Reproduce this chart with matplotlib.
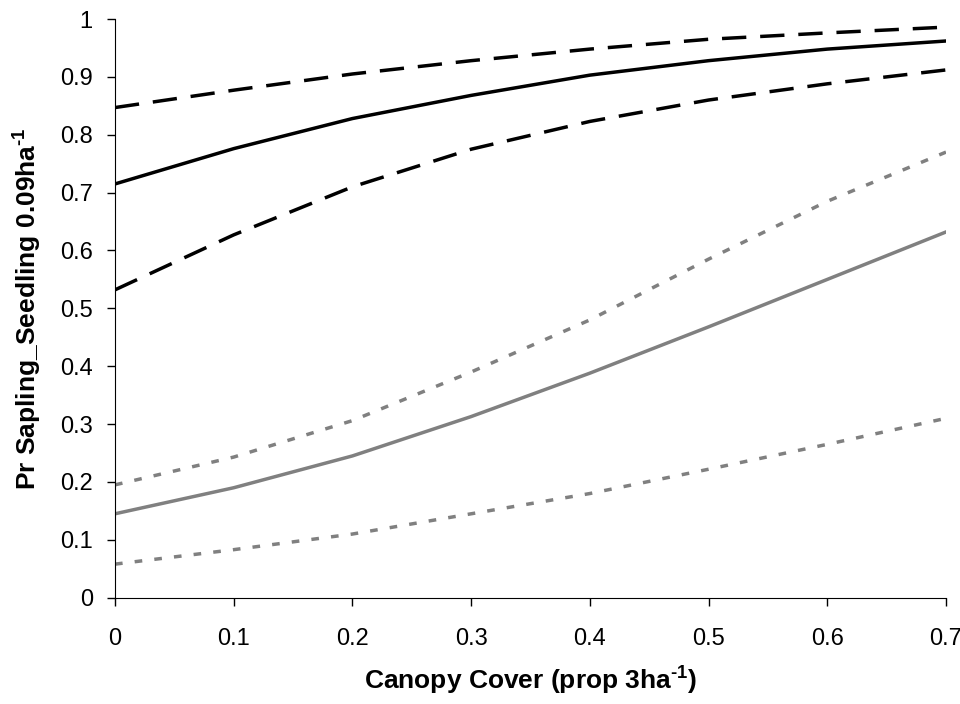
import matplotlib
matplotlib.use("Agg")
import matplotlib.pyplot as plt

plt.rcParams['font.family'] = ['Liberation Sans', 'DejaVu Sans']
plt.rcParams['mathtext.fontset'] = 'custom'
plt.rcParams['mathtext.rm'] = 'Liberation Sans:bold'
plt.rcParams['mathtext.bf'] = 'Liberation Sans:bold'
plt.rcParams['mathtext.default'] = 'bf'

# canopy cover (x)
cover = [0.0, 0.1, 0.2, 0.3, 0.4, 0.5, 0.6, 0.7]

# black group: estimate with upper/lower bounds
black_mid = [0.715, 0.776, 0.828, 0.868, 0.903, 0.928, 0.948, 0.962]
black_hi = [0.847, 0.877, 0.905, 0.928, 0.948, 0.965, 0.976, 0.986]
black_lo = [0.532, 0.627, 0.710, 0.775, 0.823, 0.860, 0.888, 0.912]

# grey group
grey_mid = [0.145, 0.190, 0.245, 0.313, 0.388, 0.468, 0.550, 0.632]
grey_hi = [0.195, 0.243, 0.306, 0.390, 0.480, 0.585, 0.685, 0.770]
grey_lo = [0.058, 0.083, 0.110, 0.145, 0.180, 0.222, 0.265, 0.310]

xticks = [0, 0.1, 0.2, 0.3, 0.4, 0.5, 0.6, 0.7]
xtick_labels = ['0', '0.1', '0.2', '0.3', '0.4', '0.5', '0.6', '0.7']
yticks = [0, 0.1, 0.2, 0.3, 0.4, 0.5, 0.6, 0.7, 0.8, 0.9, 1.0]
ytick_labels = ['0', '0.1', '0.2', '0.3', '0.4', '0.5', '0.6', '0.7', '0.8', '0.9', '1']

fig = plt.figure(figsize=(9.6, 7.04), dpi=100)
ax = fig.add_axes([0.1198, 0.151, 0.8656, 0.822])

grey = '#808080'
ax.plot(cover, black_hi, color='black', lw=2.5, dashes=(7, 4))
ax.plot(cover, black_mid, color='black', lw=2.5)
ax.plot(cover, black_lo, color='black', lw=2.5, dashes=(7, 4))
ax.plot(cover, grey_hi, color=grey, lw=2.5, dashes=(2.2, 3.5))
ax.plot(cover, grey_mid, color=grey, lw=2.5)
ax.plot(cover, grey_lo, color=grey, lw=2.5, dashes=(2.2, 3.5))

ax.set_xlim(0, 0.7)
ax.set_ylim(0, 1)
ax.set_xticks(xticks)
ax.set_xticklabels(xtick_labels)
ax.set_yticks(yticks)
ax.set_yticklabels(ytick_labels)
ax.tick_params(labelsize=17, length=6, width=1)
ax.tick_params(axis='x', pad=16)
ax.tick_params(axis='y', pad=10)
ax.spines['top'].set_visible(False)
ax.spines['right'].set_visible(False)

ax.set_xlabel(r'Canopy Cover (prop 3ha$^{\text{-}1}$)', fontsize=19, fontweight='bold')
ax.set_ylabel(r'Pr Sapling_Seedling 0.09ha$^{\text{-}1}$', fontsize=19, fontweight='bold')
ax.xaxis.set_label_coords(0.5, -0.116)
ax.yaxis.set_label_coords(-0.0854, 0.5)

fig.savefig('out.png', dpi=100)
